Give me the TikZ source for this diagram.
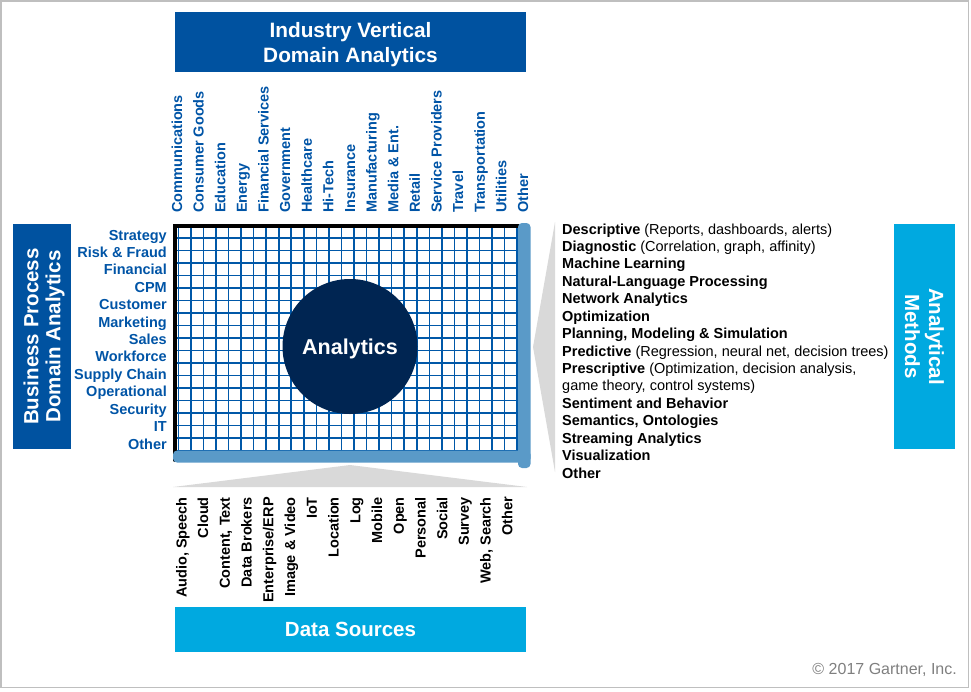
\documentclass[tikz,border=0pt]{standalone}
\usepackage{fontspec}
\setmainfont{Liberation Sans}
\definecolor{hdrblue}{HTML}{0052A0}
\definecolor{hdrcyan}{HTML}{00A9E0}
\definecolor{navy}{HTML}{002552}
\definecolor{lblblue}{HTML}{0054A6}
\definecolor{barblue}{HTML}{5A9AC8}
\definecolor{gridblue}{HTML}{0058A8}
\definecolor{wedge}{HTML}{D9D9D9}
\definecolor{frame}{HTML}{BFBFBF}
\definecolor{copygray}{HTML}{7F7F7F}
\tikzset{
  hdrbox/.style={text=white, align=center, inner sep=0pt, text depth=0pt},
  lbl/.style={font=\bfseries\fontsize{14.5}{16}\selectfont, inner sep=0pt},
  collab/.style={lbl, text=lblblue, rotate=90, anchor=base west},
  rowlab/.style={lbl, text=lblblue, anchor=base east},
  srclab/.style={lbl, text=black, rotate=90, anchor=base east},
  methlab/.style={font=\fontsize{14.5}{16}\selectfont, inner sep=0pt, anchor=base west, text=black},
  gridline/.style={draw=gridblue, line width=1.6pt},
}
\begin{document}
\begin{tikzpicture}[x=1pt,y=-1pt]
\useasboundingbox (0,0) rectangle (971,691);
\draw[frame, line width=1.5pt] (0.75,0.75) rectangle (968.5,687.5);

% header boxes
\node[hdrbox, fill=hdrblue, font=\bfseries\fontsize{20.8}{25}\selectfont, minimum width=351pt, minimum height=60pt] (ind) at (350.5,42) {Industry Vertical\\Domain Analytics};
\node[hdrbox, fill=hdrblue, font=\bfseries\fontsize{20.5}{22}\selectfont, rotate=90, minimum width=225pt, minimum height=58pt] (bp) at (42,336.5) {Business Process\\Domain Analytics};
\node[hdrbox, fill=hdrcyan, font=\bfseries\fontsize{20.5}{24}\selectfont, rotate=-90, minimum width=225pt, minimum height=61pt] (am) at (924.5,336.5) {Analytical\\Methods};
\node[hdrbox, fill=hdrcyan, font=\bfseries\fontsize{20.5}{24}\selectfont, minimum width=351pt, minimum height=45pt] (ds) at (350.5,629.5) {Data Sources};

% wedges
\fill[wedge] (555,222) -- (533,347) -- (555,472) -- cycle;
\fill[wedge] (173,487) -- (350,465) -- (527,487) -- cycle;

% grid
\foreach \k in {0,...,27} \draw[gridline] ({178.3+12.55*\k},226) -- ({178.3+12.55*\k},451);
\foreach \k in {0,...,17} \draw[gridline] (174,{238+12.5*\k}) -- (518,{238+12.5*\k});
\draw[black, line width=4pt, line cap=round] (174.7,460) -- (174.7,226) -- (520,226);
\fill[barblue, rounded corners=4pt] (518,223) rectangle (530.5,468);
\fill[barblue, rounded corners=4pt] (173,450.5) rectangle (530.5,462.5);

% center
\node[circle, fill=navy, minimum size=135pt, inner sep=0pt, text depth=0pt, text=white, font=\bfseries\fontsize{21.5}{24}\selectfont] (an) at (350,346.5) {Analytics};

% column labels
\foreach \t [count=\i from 0] in {Communications, Consumer Goods, Education, Energy, Financial Services, Government, Healthcare, Hi-Tech, Insurance, Manufacturing, Media \& Ent., Retail, Service Providers, Travel, Transportation, Utilities, Other}
  \node[collab] (col\i) at ({182+21.625*\i},213) {\t};

% row labels
\foreach \t [count=\i from 0] in {Strategy, Risk \& Fraud, Financial, CPM, Customer, Marketing, Sales, Workforce, Supply Chain, Operational, Security, IT, Other}
  \node[rowlab] (row\i) at (167,{240+17.42*\i}) {\t};

% data sources
\foreach \t [count=\i from 0] in {{Audio, Speech}, Cloud, {Content, Text}, Data Brokers, Enterprise/ERP, Image \& Video, IoT, Location, Log, Mobile, Open, Personal, Social, Survey, {Web, Search}, Other}
  \node[srclab] (src\i) at ({186.5+21.73*\i},497) {\t};

% methods
\node[methlab] (m0) at (562,{234+17.43*0}) {\textbf{Descriptive} (Reports, dashboards, alerts)};
\node[methlab] (m1) at (562,{234+17.43*1}) {\textbf{Diagnostic} (Correlation, graph, affinity)};
\node[methlab] (m2) at (562,{234+17.43*2}) {\textbf{Machine Learning}};
\node[methlab] (m3) at (562,{234+17.43*3}) {\textbf{Natural-Language Processing}};
\node[methlab] (m4) at (562,{234+17.43*4}) {\textbf{Network Analytics}};
\node[methlab] (m5) at (562,{234+17.43*5}) {\textbf{Optimization}};
\node[methlab] (m6) at (562,{234+17.43*6}) {\textbf{Planning, Modeling \& Simulation}};
\node[methlab] (m7) at (562,{234+17.43*7}) {\textbf{Predictive} (Regression, neural net, decision trees)};
\node[methlab] (m8) at (562,{234+17.43*8}) {\textbf{Prescriptive} (Optimization, decision analysis,};
\node[methlab] (m9) at (562,{234+17.43*9}) {game theory, control systems)};
\node[methlab] (m10) at (562,{234+17.43*10}) {\textbf{Sentiment and Behavior}};
\node[methlab] (m11) at (562,{234+17.43*11}) {\textbf{Semantics, Ontologies}};
\node[methlab] (m12) at (562,{234+17.43*12}) {\textbf{Streaming Analytics}};
\node[methlab] (m13) at (562,{234+17.43*13}) {\textbf{Visualization}};
\node[methlab] (m14) at (562,{234+17.43*14}) {\textbf{Other}};

% copyright
\node[font=\fontsize{16}{18}\selectfont, text=copygray, inner sep=0pt, anchor=base east] (copy) at (957,674) {© 2017 Gartner, Inc.};
\end{tikzpicture}
\end{document}
